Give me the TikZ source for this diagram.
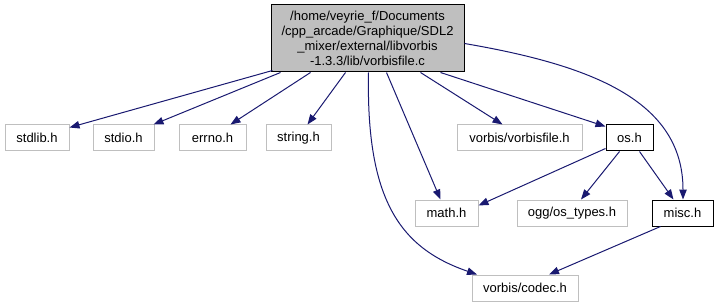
\documentclass[tikz,border=0pt]{standalone}
\usepackage{fontspec}
\setmainfont{Liberation Sans}
\usetikzlibrary{arrows.meta}
\definecolor{edgeblue}{HTML}{191970}
\definecolor{boxgray}{HTML}{BFBFBF}
\tikzset{
  hdr/.style={draw=boxgray, line width=1pt, fill=white, inner sep=0pt,
    minimum height=26pt, font=\fontsize{13}{15}\selectfont},
  hdrdoc/.style={hdr, draw=black, line width=1pt},
  mainfile/.style={draw=black, line width=1pt, fill=boxgray, inner sep=0pt,
    minimum width=193pt, minimum height=67pt, align=center,
    font=\fontsize{13}{15.2}\selectfont},
  edge/.style={draw=edgeblue, line width=1pt,
    -{Triangle[length=10pt,width=7.5pt]}}
}
\begin{document}
\begin{tikzpicture}[x=1pt,y=-1pt]
\useasboundingbox (0,0) rectangle (719,307);

% source file
\node[mainfile] (main) at (367.5,38.5)
  {/home/veyrie\_f/Documents\\/cpp\_arcade/Graphique/SDL2\\\_mixer/external/libvorbis\\-1.3.3/lib/vorbisfile.c};

% first row of includes
\node[hdr, minimum width=64pt]  (stdlib) at (37,138)    {stdlib.h};
\node[hdr, minimum width=61pt]  (stdio)  at (123.5,138) {stdio.h};
\node[hdr, minimum width=67pt]  (errno)  at (212.5,138) {errno.h};
\node[hdr, minimum width=65pt]  (string) at (298.5,138) {string.h};
\node[hdr, minimum width=125pt] (vfile)  at (519.5,138) {vorbis/vorbisfile.h};
\node[hdrdoc, minimum width=47pt] (os)   at (629.5,138) {os.h};

% second row
\node[hdr, minimum width=63pt]  (math)   at (446.5,213) {math.h};
\node[hdr, minimum width=110pt] (ogg)    at (572,213)   {ogg/os\_types.h};
\node[hdrdoc, minimum width=61pt] (misc) at (682.5,213) {misc.h};

% third row
\node[hdr, minimum width=106pt] (codec)  at (525,288)   {vorbis/codec.h};

% dependencies of vorbisfile.c
\draw[edge] ([xshift=-95pt,yshift=2pt]main.south) -- ([yshift=-3pt]stdlib.north east);
\draw[edge] ([xshift=-87pt]main.south) -- ([xshift=30pt]stdio.north);
\draw[edge] ([xshift=-57pt]main.south) -- ([xshift=18pt]errno.north);
\draw[edge] ([xshift=-22pt]main.south) -- ([xshift=9pt]string.north);
\draw[edge] ([xshift=19pt]main.south) -- ([xshift=-6pt]math.north);
\draw[edge] ([xshift=1pt]main.south) .. controls (366,200) and (400,248) .. ([xshift=-48pt]codec.north);
\draw[edge] ([xshift=53pt]main.south) -- ([xshift=-17pt]vfile.north);
\draw[edge] ([xshift=73pt]main.south) -- ([yshift=-2pt]os.north west);
\draw[edge] ([yshift=-5pt]main.east) .. controls (590,65) and (683,100) .. ([xshift=0.5pt]misc.north);

% dependencies of os.h
\draw[edge] ([yshift=3pt]os.south west) -- ([yshift=-6pt]math.north east);
\draw[edge] ([xshift=-10pt]os.south) -- ([xshift=9pt]ogg.north);
\draw[edge] ([xshift=10pt]os.south) -- ([xshift=-9pt]misc.north);

% dependency of misc.h
\draw[edge] ([xshift=-22pt]misc.south) -- ([xshift=24pt]codec.north);
\end{tikzpicture}
\end{document}
